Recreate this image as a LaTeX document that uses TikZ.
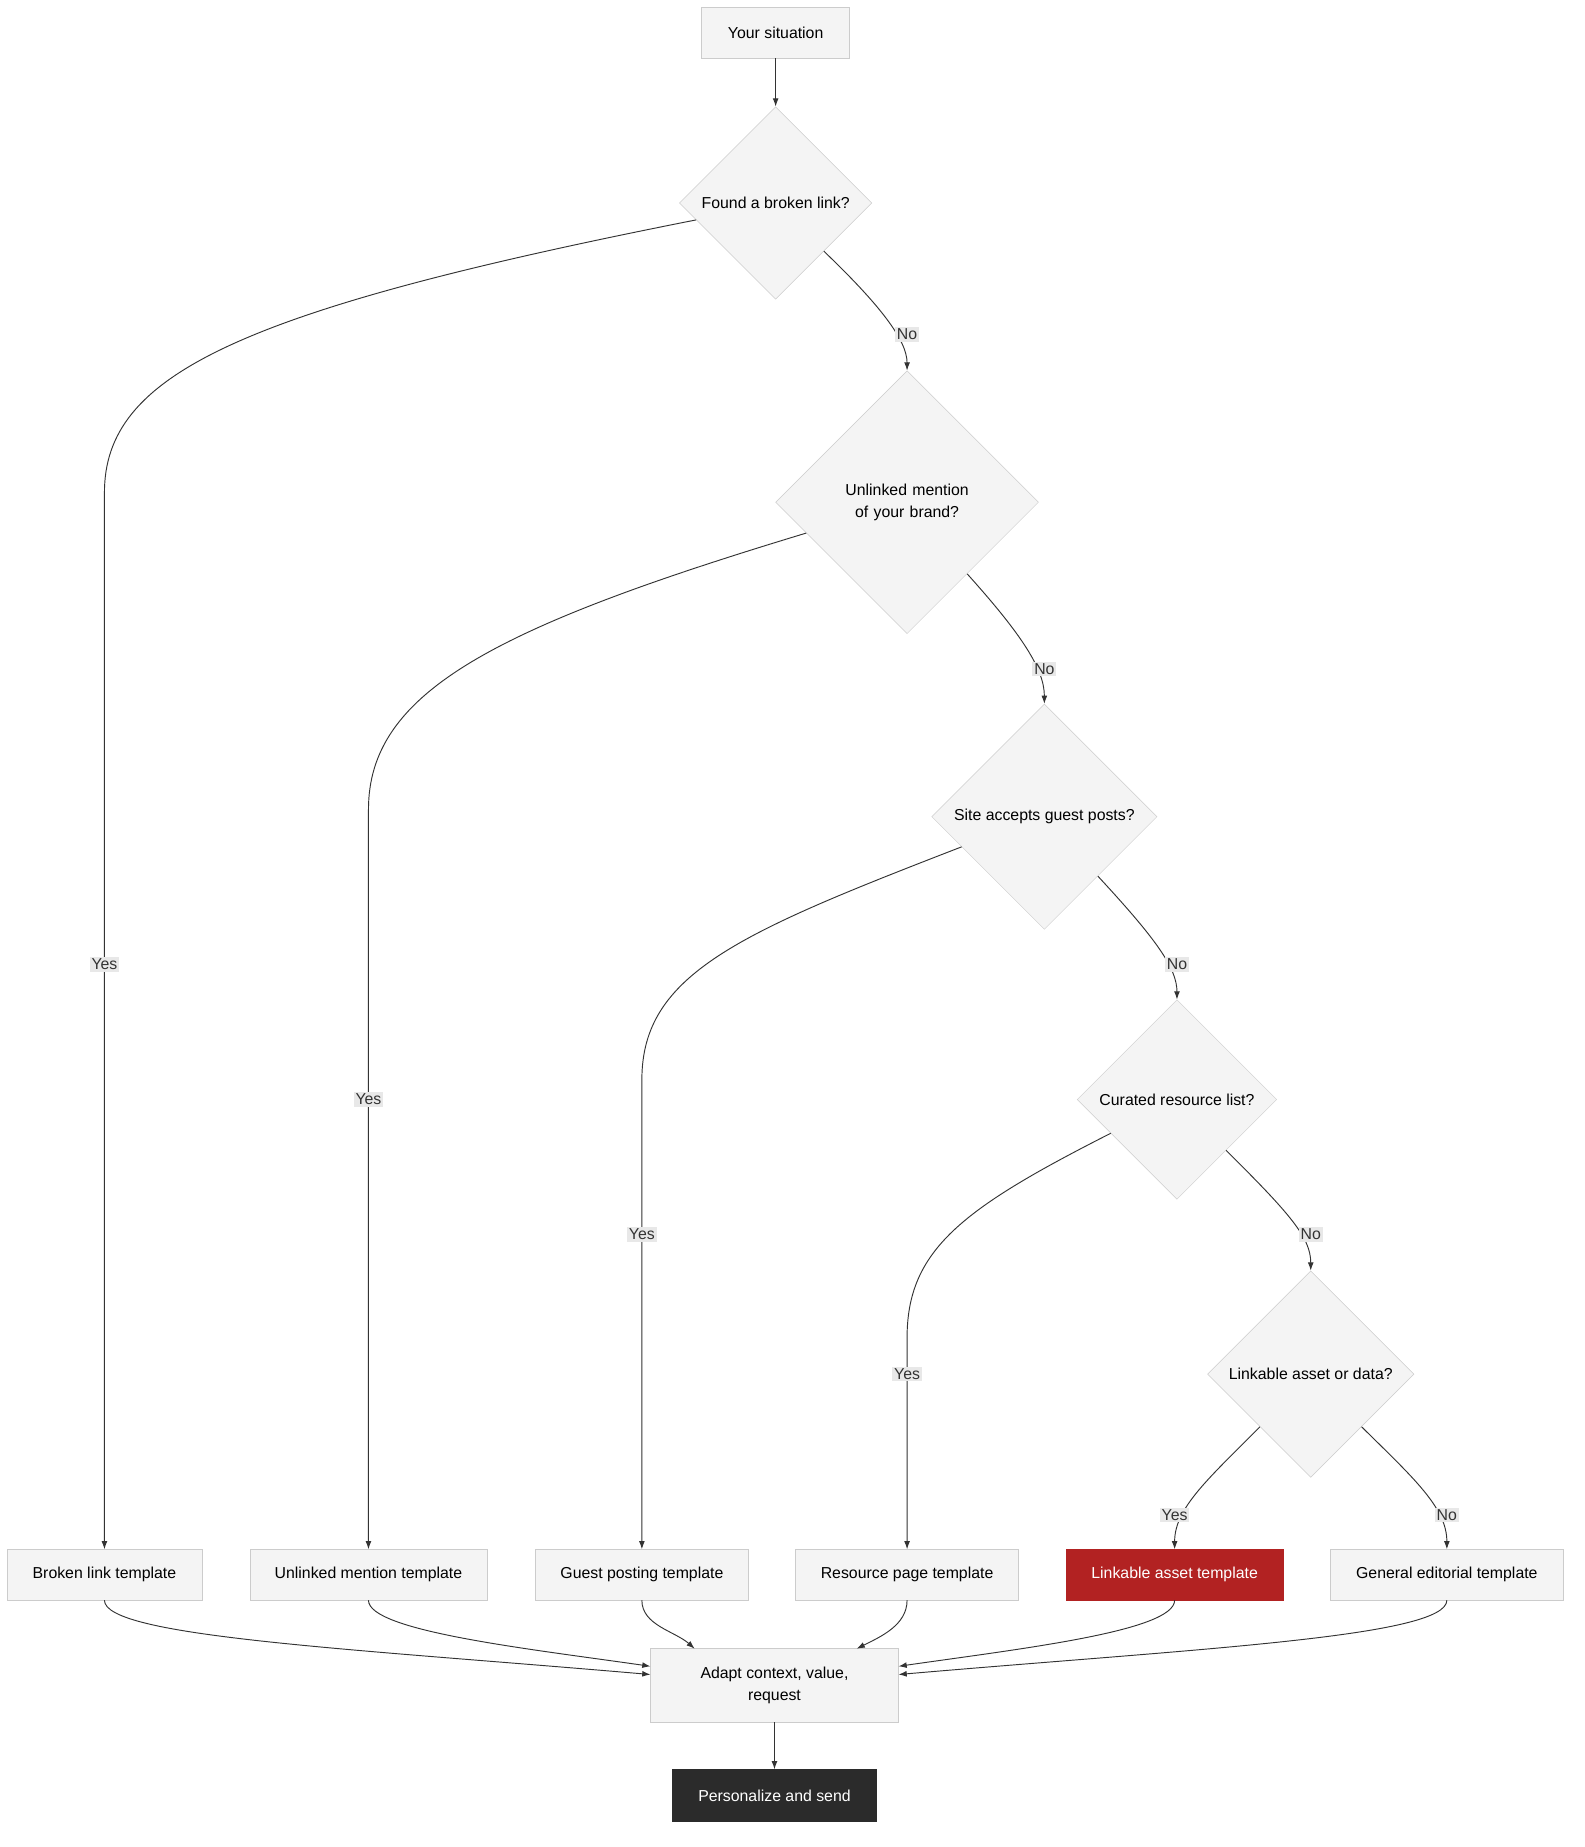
\documentclass[tikz,border=0pt]{standalone}
\usepackage{fontspec}
\setmainfont{Liberation Sans}
\usetikzlibrary{shapes.geometric}
\usetikzlibrary{arrows.meta}
\definecolor{boxfill}{RGB}{244,244,244}
\definecolor{boxline}{RGB}{204,204,204}
\definecolor{edgecol}{RGB}{51,51,51}
\definecolor{lblfill}{RGB}{232,232,232}
\definecolor{assetred}{RGB}{178,34,34}
\definecolor{sendblack}{RGB}{43,43,43}

\tikzset{
	box/.style={draw=boxline,fill=boxfill,rectangle,minimum height=43pt,inner sep=0pt,font=\fontsize{13.5}{19}\selectfont},
	choice/.style={draw=boxline,fill=boxfill,diamond,aspect=1,inner sep=0pt,align=center,font=\fontsize{13.5}{19}\selectfont},
	flow/.style={draw=edgecol,line width=0.8pt,-{Latex[length=7pt,width=5pt]}},
	lbl/.style={fill=lblfill,inner sep=1.5pt,font=\fontsize{13.5}{16}\selectfont,text=edgecol}
}

\begin{document}
\begin{tikzpicture}[x=1pt,y=-1pt]
	\useasboundingbox[fill=white] (0,0) rectangle (1350,1574);
	% start and questions
	\node[box,minimum width=126pt] (start) at (661,28) {Your situation};
	\node[choice,minimum size=164pt] (q1) at (661,173) {Found a broken link?};
	\node[choice,minimum size=224pt,text width=150pt] (q2) at (773,428) {Unlinked mention of your brand?};
	\node[choice,minimum size=192pt] (q3) at (890,696) {Site accepts guest posts?};
	\node[choice,minimum size=170pt] (q4) at (1003,937) {Curated resource list?};
	\node[choice,minimum size=176pt] (q5) at (1117,1171) {Linkable asset or data?};
	% templates
	\node[box,minimum width=166pt] (broken) at (89,1342) {Broken link template};
	\node[box,minimum width=202pt] (mention) at (314,1342) {Unlinked mention template};
	\node[box,minimum width=182pt] (guest) at (547,1342) {Guest posting template};
	\node[box,minimum width=190pt] (resource) at (773,1342) {Resource page template};
	\node[box,minimum width=185pt,fill=assetred,draw=assetred,text=white] (asset) at (1001,1342) {Linkable asset template};
	\node[box,minimum width=198pt] (editorial) at (1233,1342) {General editorial template};
	\node[box,minimum width=211pt,minimum height=63pt,align=center] (adapt) at (660,1436) {Adapt context, value,\\request};
	\node[box,minimum width=174pt,minimum height=44pt,fill=sendblack,draw=sendblack,text=white] (send) at (660,1530) {Personalize and send};

	\draw[flow] (start) -- (q1);
	% No branch
	\draw[flow] (q1.-45) .. controls (750,260) and (773,290) .. (q2.north);
	\draw[flow] (q2.-50) .. controls (870,540) and (890,570) .. (q3.north);
	\draw[flow] (q3.-48) .. controls (985,800) and (1003,825) .. (q4.north);
	\draw[flow] (q4.-46) .. controls (1100,1035) and (1117,1055) .. (q5.north);
	\node[lbl] at (773,285) {No};
	\node[lbl] at (890,570) {No};
	\node[lbl] at (1003,822) {No};
	\node[lbl] at (1117,1052) {No};
	% Yes branch
	\draw[flow] (q1.192) .. controls (200,265) and (89,320) .. (89,420) -- (broken.north);
	\draw[flow] (q2.197) .. controls (420,535) and (314,590) .. (314,690) -- (mention.north);
	\draw[flow] (q3.200) .. controls (630,795) and (547,830) .. (547,920) -- (guest.north);
	\draw[flow] (q4.207) .. controls (820,1030) and (773,1065) .. (773,1140) -- (resource.north);
	\draw[flow] (q5.226) .. controls (1030,1260) and (1001,1285) .. (asset.north);
	\draw[flow] (q5.-46) .. controls (1205,1260) and (1233,1285) .. (editorial.north);
	\node[lbl] at (89,822) {Yes};
	\node[lbl] at (314,937) {Yes};
	\node[lbl] at (547,1052) {Yes};
	\node[lbl] at (773,1171) {Yes};
	\node[lbl] at (1001,1291) {Yes};
	\node[lbl] at (1233,1291) {No};
	% merge
	\draw[flow] (broken.south) .. controls (89,1395) and (300,1405) .. ([yshift=9pt]adapt.west);
	\draw[flow] (mention.south) .. controls (314,1390) and (450,1405) .. ([yshift=16pt]adapt.west);
	\draw[flow] (guest.south) .. controls (547,1385) and (575,1390) .. (592,1405);
	\draw[flow] (resource.south) .. controls (773,1385) and (750,1395) .. (730,1405);
	\draw[flow] (asset.south) .. controls (1001,1390) and (870,1405) .. ([yshift=16pt]adapt.east);
	\draw[flow] (editorial.south) .. controls (1233,1395) and (1020,1405) .. ([yshift=9pt]adapt.east);
	\draw[flow] (adapt) -- (send);
\end{tikzpicture}
\end{document}
